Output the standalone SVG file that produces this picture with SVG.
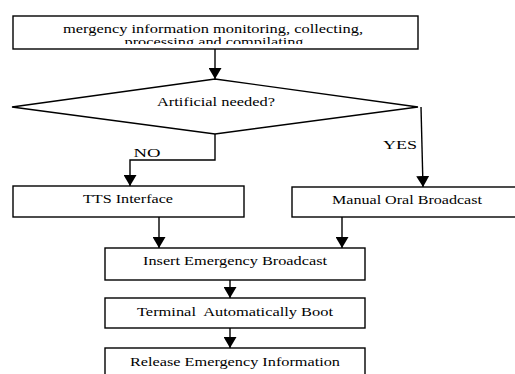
<svg xmlns="http://www.w3.org/2000/svg" width="515" height="374" viewBox="0 0 515 374">
<defs>
<marker id="ah" markerUnits="userSpaceOnUse" markerWidth="11" markerHeight="13" viewBox="0 0 11 13" refX="11" refY="6.5" orient="auto">
<path d="M0,0 L11,6.5 L0,13 z" fill="#000"/>
</marker>
<clipPath id="topclip"><rect x="13" y="16" width="405" height="28"/></clipPath>
</defs>
<style>
.box{fill:#fff;stroke:#000;stroke-width:1.4}
.t{font-family:'Liberation Serif','DejaVu Serif',serif;font-size:12.5px;fill:#000;text-anchor:middle}
.c{fill:none;stroke:#000;stroke-width:1.4}
</style>
<rect width="515" height="374" fill="#fff"/>
<g id="n1">
<rect class="box" x="13" y="16" width="405" height="33"/>
<g clip-path="url(#topclip)">
<text class="t" x="213" y="33" textLength="300" lengthAdjust="spacingAndGlyphs">mergency information monitoring, collecting,</text>
<text class="t" x="214" y="45.5" textLength="179" lengthAdjust="spacingAndGlyphs">processing and compilating</text>
</g>
</g>
<g id="n2">
<polygon class="box" points="215,79 418,107 215,134 12,107"/>
<text class="t" x="216" y="106" textLength="118" lengthAdjust="spacingAndGlyphs">Artificial needed?</text>
</g>
<g id="n3">
<rect class="box" x="13" y="186" width="231" height="31"/>
<text class="t" x="128" y="203" textLength="90" lengthAdjust="spacingAndGlyphs">TTS Interface</text>
</g>
<g id="n4">
<rect class="box" x="292" y="187" width="225" height="30"/>
<text class="t" x="407" y="204" textLength="150" lengthAdjust="spacingAndGlyphs">Manual Oral Broadcast</text>
</g>
<g id="n5">
<rect class="box" x="105" y="248" width="260" height="32"/>
<text class="t" x="235" y="265" textLength="184" lengthAdjust="spacingAndGlyphs">Insert Emergency Broadcast</text>
</g>
<g id="n6">
<rect class="box" x="105" y="298" width="260" height="30"/>
<text class="t" x="235" y="316" textLength="196" lengthAdjust="spacingAndGlyphs" xml:space="preserve">Terminal  Automatically Boot</text>
</g>
<g id="n7">
<rect class="box" x="105" y="348" width="260" height="32"/>
<text class="t" x="235" y="366" textLength="210" lengthAdjust="spacingAndGlyphs">Release Emergency Information</text>
</g>
<g id="connectors">
<line class="c" x1="215" y1="49" x2="215" y2="79" marker-end="url(#ah)"/>
<polyline class="c" points="215,134 215,160 130,160 130,186" marker-end="url(#ah)"/>
<line class="c" x1="421" y1="107" x2="423" y2="187" marker-end="url(#ah)"/>
<line class="c" x1="159" y1="217" x2="159" y2="248" marker-end="url(#ah)"/>
<line class="c" x1="342" y1="217" x2="342" y2="248" marker-end="url(#ah)"/>
<line class="c" x1="230" y1="280" x2="230" y2="298" marker-end="url(#ah)"/>
<line class="c" x1="230" y1="328" x2="230" y2="348" marker-end="url(#ah)"/>
<text class="t" x="147" y="157" textLength="27" lengthAdjust="spacingAndGlyphs">NO</text>
<text class="t" x="400" y="149" textLength="34" lengthAdjust="spacingAndGlyphs">YES</text>
</g>
</svg>
